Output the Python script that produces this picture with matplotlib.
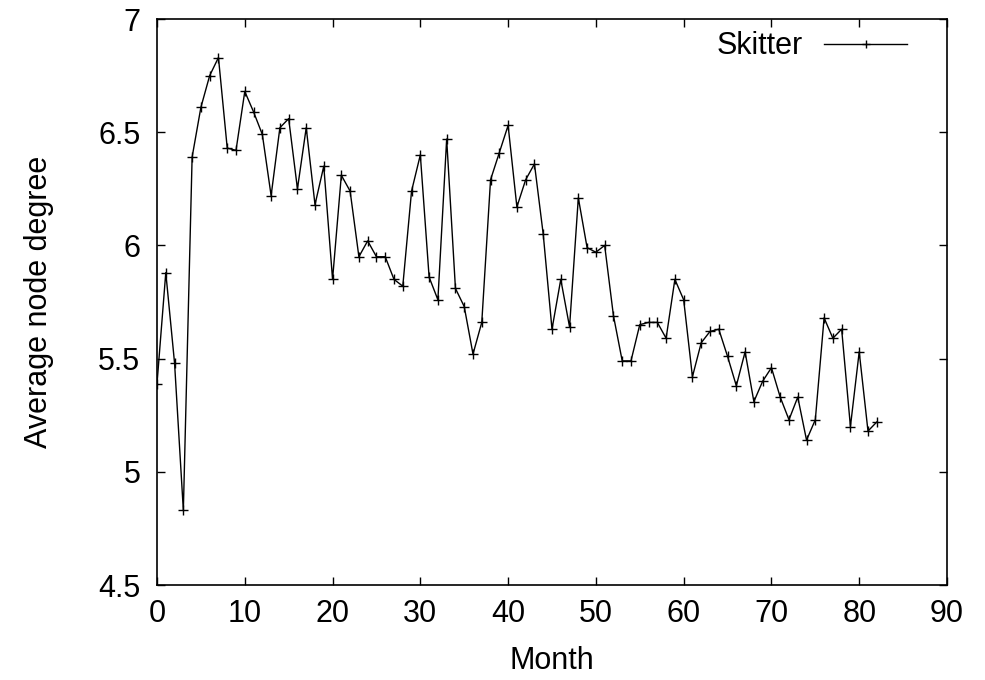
import matplotlib
matplotlib.use("Agg")
import matplotlib.pyplot as plt

months = list(range(83))
degree = [
    5.39, 5.88, 5.48, 4.83, 6.39, 6.61, 6.75, 6.83, 6.43, 6.42,
    6.68, 6.59, 6.49, 6.22, 6.52, 6.56, 6.25, 6.52, 6.18, 6.35,
    5.85, 6.31, 6.24, 5.95, 6.02, 5.95, 5.95, 5.85, 5.82, 6.24,
    6.40, 5.86, 5.76, 6.47, 5.81, 5.73, 5.52, 5.66, 6.29, 6.41,
    6.53, 6.17, 6.29, 6.36, 6.05, 5.63, 5.85, 5.64, 6.21, 5.99,
    5.97, 6.00, 5.69, 5.49, 5.49, 5.65, 5.66, 5.66, 5.59, 5.85,
    5.76, 5.42, 5.57, 5.62, 5.63, 5.51, 5.38, 5.53, 5.31, 5.40,
    5.46, 5.33, 5.23, 5.33, 5.14, 5.23, 5.68, 5.59, 5.63, 5.20,
    5.53, 5.18, 5.22,
]
xticks = [0, 10, 20, 30, 40, 50, 60, 70, 80, 90]
yticks = [4.5, 5, 5.5, 6, 6.5, 7]
ytick_labels = ["4.5", "5", "5.5", "6", "6.5", "7"]

plt.rcParams['font.family'] = ['Liberation Sans', 'DejaVu Sans']

fig = plt.figure(figsize=(9.85, 6.8), dpi=100)
ax = fig.add_axes([0.1594, 0.1397, 0.8020, 0.8323])

ax.plot(months, degree, color='black', lw=1, marker='+', markersize=7,
        markeredgewidth=1, label='Skitter')

ax.set_xlim(0, 90)
ax.set_ylim(4.5, 7)
ax.set_xticks(xticks)
ax.set_yticks(yticks)
ax.set_yticklabels(ytick_labels)
ax.tick_params(direction='in', top=True, right=True, length=6, width=1,
               labelsize=22)
ax.tick_params(axis='y', pad=12)
ax.tick_params(axis='x', pad=10)
for s in ax.spines.values():
    s.set_linewidth(1.2)

ax.set_xlabel("Month", fontsize=22, labelpad=12)
ax.set_ylabel("Average node degree", fontsize=22, labelpad=32)

# legend in the top right corner, text before the sample line
leg = ax.legend(loc='upper right', bbox_to_anchor=(0.9646, 1.0),
                frameon=False, fontsize=22, markerfirst=False,
                handlelength=2.7, handletextpad=0.7, borderaxespad=0,
                markerscale=0.9)

fig.savefig("out.png", dpi=100)
